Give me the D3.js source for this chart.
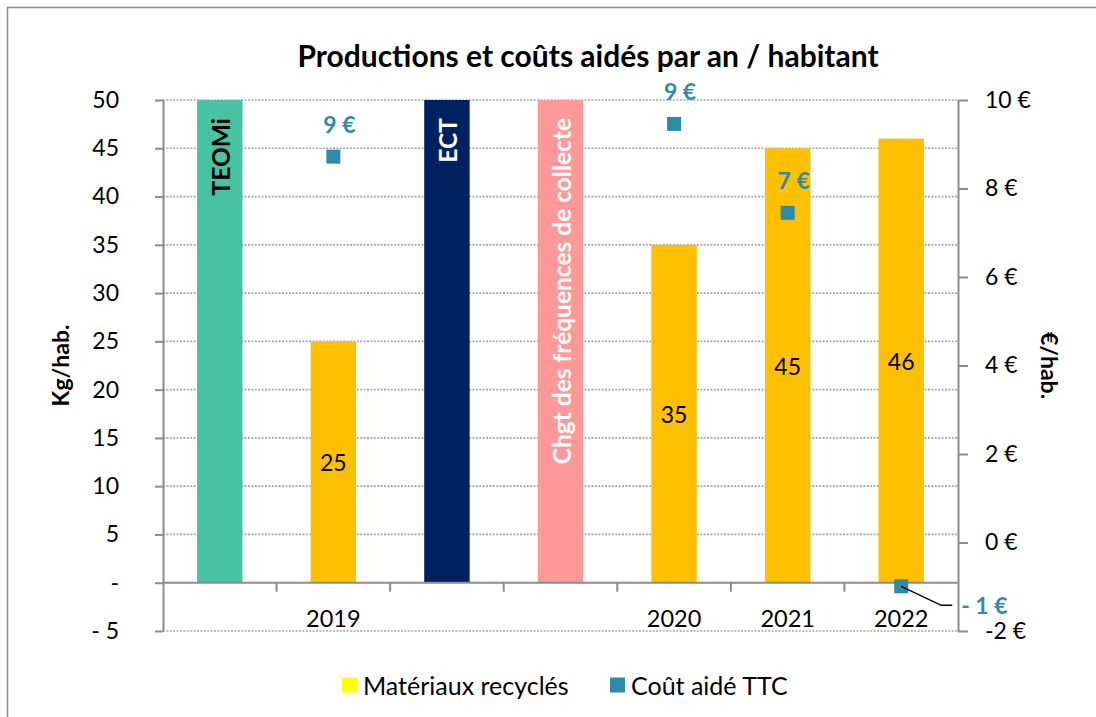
<!DOCTYPE html>
<html>
<head>
<meta charset="utf-8">
<script src="https://cdn.jsdelivr.net/npm/d3@7"></script>
<style>
  body { margin: 0; background: #fff; }
  text { font-family: Lato, "Noto Sans", sans-serif; }
</style>
</head>
<body>
<div id="chart"></div>
<script>
// data
const slots = ['s0', 's1', 's2', 's3', 's4', 's5', 's6'];
const yearLabels = ['', '2019', '', '', '2020', '2021', '2022'];
const recycled = [null, 25, null, null, 35, 45, 46];
const cost = [null, 8.72, null, null, 9.46, 7.45, -0.99];
// event bars (full height) and their vertical labels
const eventSlots = ['s0', 's2', 's3'];
const eventNames = ['TEOMi', 'ECT', 'Chgt des fréquences de collecte'];
const eventValues = [50, 50, 50];
const yTicks = [-5, 0, 5, 10, 15, 20, 25, 30, 35, 40, 45, 50];
const y2Ticks = [-2, 0, 2, 4, 6, 8, 10];
const legendNames = ['Matériaux recyclés', 'Coût aidé TTC'];

const width = 1096, height = 717;
const plot = {left: 163, right: 958, top: 100, bottom: 631};
const eventColors = ['#47C3A3', '#00205F', '#FF9999'];
const eventText = ['#000', '#fff', '#fff'];
const barColor = '#FFC000';
const costColor = '#2E8BA7';

const svg = d3.select('#chart').append('svg')
  .attr('width', width)
  .attr('height', height);

// outer frame
svg.append('rect')
  .attr('x', 7.5).attr('y', 7.5)
  .attr('width', width + 20).attr('height', height + 20)
  .attr('fill', 'none')
  .attr('stroke', '#8c8c8c')
  .attr('stroke-width', 1.5);

const x = d3.scaleBand().domain(slots).range([plot.left, plot.right])
  .paddingInner(0.6).paddingOuter(0.3);
const y = d3.scaleLinear().domain([-5, 50]).range([plot.bottom, plot.top]);
const y2 = d3.scaleLinear().domain([-2, 10]).range([plot.bottom, plot.top]);
const bw = x.bandwidth();
const step = x.step();

// title
svg.append('text')
  .attr('x', 588)
  .attr('y', 55)
  .attr('text-anchor', 'middle')
  .attr('dominant-baseline', 'central')
  .style('font-size', '30px')
  .style('font-weight', 'bold')
  .text('Productions et coûts aidés par an / habitant');

// dotted grid
svg.append('g')
  .selectAll('line')
  .data(yTicks.filter(d => d !== 0))
  .enter().append('line')
  .attr('x1', plot.left).attr('x2', plot.right)
  .attr('y1', d => y(d)).attr('y2', d => y(d))
  .attr('stroke', '#a6a6a6')
  .attr('stroke-width', 1.7)
  .attr('stroke-dasharray', '2,1.4');

// event bars
svg.append('g')
  .selectAll('rect')
  .data(eventSlots)
  .enter().append('rect')
  .attr('x', d => x(d))
  .attr('width', bw)
  .attr('y', (d, i) => y(eventValues[i]))
  .attr('height', (d, i) => y(0) - y(eventValues[i]))
  .attr('fill', (d, i) => eventColors[i]);

svg.append('g')
  .selectAll('text')
  .data(eventSlots)
  .enter().append('text')
  .attr('transform', (d, i) => `translate(${x(d) + bw / 2 + 1},${y(eventValues[i]) + 18}) rotate(-90)`)
  .attr('text-anchor', 'end')
  .attr('dominant-baseline', 'central')
  .style('font-size', '24.5px')
  .style('font-weight', 'bold')
  .style('fill', (d, i) => eventText[i])
  .text((d, i) => eventNames[i]);

// recycled material bars
const recData = slots.map((s, i) => ({slot: s, v: recycled[i]})).filter(d => d.v !== null);
svg.append('g')
  .selectAll('rect')
  .data(recData)
  .enter().append('rect')
  .attr('x', d => x(d.slot))
  .attr('width', bw)
  .attr('y', d => y(d.v))
  .attr('height', d => y(0) - y(d.v))
  .attr('fill', barColor);

svg.append('g')
  .selectAll('text')
  .data(recData)
  .enter().append('text')
  .attr('x', d => x(d.slot) + bw / 2)
  .attr('y', d => (y(0) + y(d.v)) / 2)
  .attr('text-anchor', 'middle')
  .attr('dominant-baseline', 'central')
  .style('font-size', '23px')
  .text(d => d.v);

// left axis
const yAxis = d3.axisLeft(y).tickValues(yTicks).tickSize(8).tickSizeOuter(0).tickPadding(36)
  .tickFormat(d => d === 0 ? '-' : (d < 0 ? '- ' + Math.abs(d) : d));
const gy = svg.append('g')
  .attr('transform', `translate(${plot.left},0)`)
  .call(yAxis);

// right axis
const y2Axis = d3.axisRight(y2).tickValues(y2Ticks).tickSize(10).tickSizeOuter(0).tickPadding(17)
  .tickFormat(d => d + ' €');
const gy2 = svg.append('g')
  .attr('transform', `translate(${plot.right},0)`)
  .call(y2Axis);

[gy, gy2].forEach(g => {
  g.select('.domain').attr('stroke', '#8c8c8c').attr('stroke-width', 2);
  g.selectAll('.tick line').attr('stroke', '#8c8c8c').attr('stroke-width', 2);
  g.selectAll('.tick text')
    .style('font-size', '23px')
    .style('fill', '#000')
    .style('font-family', 'Lato, "Noto Sans", sans-serif');
});

// category axis on zero line
svg.append('line')
  .attr('x1', plot.left).attr('x2', plot.right)
  .attr('y1', y(0)).attr('y2', y(0))
  .attr('stroke', '#8c8c8c')
  .attr('stroke-width', 2);

svg.append('g')
  .selectAll('line')
  .data(slots.slice(1))
  .enter().append('line')
  .attr('x1', d => x(d) + bw / 2 - step / 2)
  .attr('x2', d => x(d) + bw / 2 - step / 2)
  .attr('y1', y(0)).attr('y2', y(0) + 9)
  .attr('stroke', '#8c8c8c')
  .attr('stroke-width', 2);

svg.append('g')
  .selectAll('text')
  .data(slots)
  .enter().append('text')
  .attr('x', d => x(d) + bw / 2)
  .attr('y', 618)
  .attr('text-anchor', 'middle')
  .attr('dominant-baseline', 'central')
  .style('font-size', '23.5px')
  .text((d, i) => yearLabels[i]);

// axis titles
svg.append('text')
  .attr('transform', `translate(60,${(plot.top + plot.bottom) / 2}) rotate(-90)`)
  .attr('text-anchor', 'middle')
  .attr('dominant-baseline', 'central')
  .style('font-size', '23px')
  .style('font-weight', 'bold')
  .text('Kg/hab.');

svg.append('text')
  .attr('transform', `translate(1050,${(plot.top + plot.bottom) / 2}) rotate(90)`)
  .attr('text-anchor', 'middle')
  .attr('dominant-baseline', 'central')
  .style('font-size', '23px')
  .style('font-weight', 'bold')
  .text('€/hab.');

// cost points
const costData = slots.map((s, i) => ({slot: s, v: cost[i]})).filter(d => d.v !== null);
const fmtCost = v => (Math.round(v) < 0 ? '- ' + Math.abs(Math.round(v)) : Math.round(v)) + ' €';

svg.append('g')
  .selectAll('rect')
  .data(costData)
  .enter().append('rect')
  .attr('x', d => x(d.slot) + bw / 2 - 7)
  .attr('y', d => y2(d.v) - 7)
  .attr('width', 14).attr('height', 14)
  .attr('fill', costColor);

const posData = costData.filter(d => d.v >= 0);
svg.append('g')
  .selectAll('text')
  .data(posData)
  .enter().append('text')
  .attr('x', d => x(d.slot) + bw / 2 + 6)
  .attr('y', d => y2(d.v) - 33)
  .attr('text-anchor', 'middle')
  .attr('dominant-baseline', 'central')
  .style('font-size', '23px')
  .style('font-weight', 'bold')
  .style('fill', costColor)
  .text(d => fmtCost(d.v));

// negative value: label out to the right with a leader line
costData.filter(d => d.v < 0).forEach(d => {
  const px = x(d.slot) + bw / 2, py = y2(d.v);
  svg.append('polyline')
    .attr('points', `${px},${py} ${px + 40},${py + 19} ${px + 51},${py + 19}`)
    .attr('fill', 'none')
    .attr('stroke', '#000')
    .attr('stroke-width', 1.5);
  svg.append('text')
    .attr('x', px + 60)
    .attr('y', py + 19)
    .attr('dominant-baseline', 'central')
    .style('font-size', '23px')
    .style('font-weight', 'bold')
    .style('fill', costColor)
    .text(fmtCost(d.v));
});

// legend
const legendX = [342, 610];
const legendColors = ['#FFFF00', costColor];
const lg = svg.append('g').selectAll('g')
  .data(legendNames)
  .enter().append('g')
  .attr('transform', (d, i) => `translate(${legendX[i]},685)`);
lg.append('rect')
  .attr('x', 0).attr('y', -7.5)
  .attr('width', 15).attr('height', 15)
  .attr('fill', (d, i) => legendColors[i]);
lg.append('text')
  .attr('x', 21)
  .attr('dominant-baseline', 'central')
  .style('font-size', '25px')
  .text(d => d);
</script>
</body>
</html>
